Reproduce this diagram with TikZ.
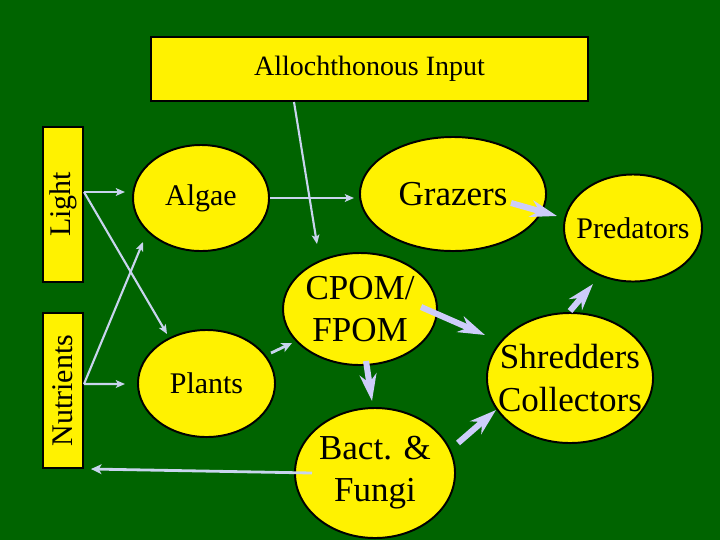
\documentclass[tikz,border=0pt]{standalone}
\usepackage{fontspec}
\setmainfont{Liberation Serif}
\usepackage{graphicx}
\usetikzlibrary{shapes.geometric,arrows.meta}

\definecolor{bggreen}{RGB}{0,100,0}
\definecolor{paleblue}{RGB}{200,212,238}
\definecolor{lilac}{RGB}{205,205,250}

\tikzset{
  blob/.style={ellipse, draw=black, line width=1.4pt, fill=yellow, inner sep=0pt},
  box/.style={rectangle, draw=black, line width=1.4pt, fill=yellow, inner sep=0pt},
  txt/.style={align=center, font=\fontsize{21.3}{25}\selectfont},
  bigtxt/.style={align=center, font=\fontsize{24.9}{30}\selectfont},
  thinarr/.style={draw=paleblue, line width=1.5pt, -{Stealth[length=6.5pt,width=5.5pt,inset=1.5pt]}},
  midarr/.style={draw=paleblue, line width=2pt, -{Stealth[length=7.5pt,width=7pt,inset=2pt]}},
  fatarr/.style={draw=lilac, line width=4.3pt, -{Stealth[length=19pt,width=12pt,inset=6pt]}},
}

\begin{document}
\begin{tikzpicture}[x=0.025cm, y=-0.025cm]
  \fill[bggreen] (0,0) rectangle (720,540);

  % boxes
  \node[box, minimum width=10.925cm, minimum height=1.6cm, font=\fontsize{19.9}{24}\selectfont] (allo) at (369.5,69) {Allochthonous Input};
  \node[box, minimum width=1cm, minimum height=3.875cm, txt] (light) at (63,204.5) {\rotatebox{90}{Light}};
  \node[box, minimum width=1cm, minimum height=3.875cm, txt] (nutr) at (63,390.5) {\rotatebox{90}{Nutrients}};

  % ellipses
  \node[blob, minimum width=3.4cm, minimum height=2.65cm] (algae) at (201,198) {};
  \node[blob, minimum width=4.65cm, minimum height=2.85cm] (grazers) at (453,194) {};
  \node[blob, minimum width=3.45cm, minimum height=2.675cm] (pred) at (633,228) {};
  \node[blob, minimum width=3.85cm, minimum height=2.8cm] (cpom) at (360,309) {};
  \node[blob, minimum width=3.425cm, minimum height=2.675cm] (plants) at (206.5,383.5) {};
  \node[blob, minimum width=4cm, minimum height=3.25cm] (bact) at (375,473) {};
  \node[blob, minimum width=4.15cm, minimum height=3.25cm] (shred) at (570,378) {};

  \node[txt] (algae-t) at (algae) {Algae};
  \node[bigtxt] (grazers-t) at (grazers) {Grazers};
  \node[txt] (pred-t) at (pred) {Predators};
  \node[bigtxt] (cpom-t) at (cpom) {CPOM/\\FPOM};
  \node[txt] (plants-t) at (plants) {Plants};
  \node[bigtxt] (bact-t) at (bact) {Bact. \&\\Fungi};
  \node[bigtxt] (shred-t) at (shred) {Shredders\\Collectors};

  % thin arrows
  \draw[thinarr] ([shift={(0,-12.5)}]light.east) -- ([shift={(-7,-6)}]algae.west);
  \draw[thinarr] ([shift={(0,-12.5)}]light.east) -- ([shift={(-39.5,5)}]plants.north);
  \draw[thinarr] ([shift={(0,-6.5)}]nutr.east) -- ([shift={(-12,0.5)}]plants.west);
  \draw[thinarr] ([shift={(0,-6.5)}]nutr.east) -- ([shift={(-58,-10)}]algae.south);
  \draw[thinarr] (algae.east) -- ([shift={(-5,4)}]grazers.west);
  \draw[thinarr] ([shift={(-75.5,0)}]allo.south) -- ([shift={(-43,-8)}]cpom.north);
  \draw[midarr] ([shift={(18,0)}]bact.west) -- ([shift={(7,0)}]nutr.south east);
  \draw[midarr] ([shift={(-5,-30.5)}]plants.east) -- ([shift={(10,34)}]cpom.west);

  % fat arrows
  \draw[fatarr] ([shift={(-36,9)}]grazers.east) -- ([shift={(-6,-12)}]pred.west);
  \draw[fatarr] ([shift={(-17,-2)}]cpom.east) -- ([shift={(-1,-43)}]shred.west);
  \draw[fatarr] ([shift={(6,-5)}]cpom.south) -- ([shift={(-3,-6)}]bact.north);
  \draw[fatarr] ([shift={(2,-30)}]bact.east) -- ([shift={(10,32)}]shred.west);
  \draw[fatarr] ([shift={(0,-1)}]shred.north) -- ([shift={(-40,1.5)}]pred.south);
\end{tikzpicture}
\end{document}
